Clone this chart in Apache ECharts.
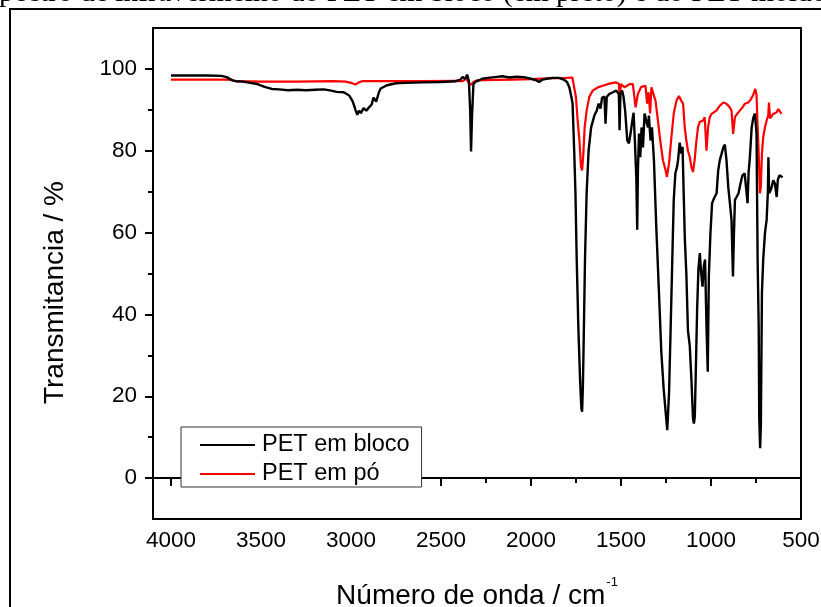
<!DOCTYPE html>
<html>
<head>
<meta charset="utf-8">
<script src="https://cdn.jsdelivr.net/npm/echarts@6/dist/echarts.min.js"></script>
<style>html,body{margin:0;padding:0;background:#fff;}#c{width:821px;height:607px;}</style>
</head>
<body>
<div id="c"></div>
<script>
// ---- data ----
const seriesNames = ['PET em bloco', 'PET em pó'];
const blocoWn = [4000,3900,3800,3720,3690,3660,3640,3600,3560,3520,3480,3440,3400,3350,3300,3250,3200,3150,3110,3080,3040,3010,2990,2975,2965,2955,2945,2930,2915,2900,2885,2875,2860,2850,2845,2835,2800,2750,2700,2600,2500,2420,2395,2380,2365,2355,2345,2338,2333,2328,2320,2310,2290,2270,2240,2200,2160,2120,2080,2040,2000,1970,1955,1935,1915,1880,1845,1815,1800,1787,1775,1769,1760,1753,1746,1737,1727,1720,1716,1712,1709,1700,1691,1680,1666,1648,1635,1624,1614,1605,1592,1586,1579,1564,1545,1527,1512,1508,1503,1494,1486,1477,1465,1456,1447,1437,1430,1423,1415,1410,1406,1400,1393,1386,1378,1369,1360,1350,1345,1336,1328,1317,1304,1289,1276,1263,1252,1243,1233,1224,1215,1207,1198,1189,1183,1174,1165,1158,1152,1145,1137,1128,1118,1109,1100,1095,1090,1085,1077,1070,1062,1055,1047,1040,1033,1025,1018,1012,1003,994,983,969,960,951,941,932,923,914,904,895,886,878,873,867,858,847,836,825,813,806,797,791,784,774,765,756,747,741,735,732,727,723,717,710,700,691,684,681,677,668,663,654,645,635,629,620,611,602];
const blocoT = [98.4,98.4,98.4,98.3,98.0,97.2,97.0,96.9,96.6,96.3,95.6,95.1,95.0,94.8,94.9,94.8,94.9,95.0,94.7,94.4,94.3,93.5,92.0,90.0,88.8,89.8,89.2,90.4,89.8,90.6,91.3,93.0,92.0,92.2,94.3,95.2,96.0,96.5,96.6,96.7,96.8,97.0,97.3,98.0,97.6,98.6,97.0,90.0,79.8,88.0,96.2,96.8,97.2,97.6,97.8,98.0,98.2,97.9,98.1,98.0,97.6,97.2,96.8,97.4,97.6,97.8,97.8,97.3,96.8,95.5,93.0,91.5,80.0,69.6,53.4,37.0,23.5,17.0,16.2,22.0,29.0,53.4,69.6,80.0,85.7,88.6,89.8,91.5,90.3,93.0,93.2,86.6,93.2,93.9,94.3,94.7,93.9,85.0,93.9,94.7,93.2,89.8,82.5,81.8,84.2,87.4,89.3,82.5,73.5,60.7,75.2,84.2,78.4,85.7,80.8,89.1,87.4,85.7,88.6,82.5,85.7,77.7,61.4,45.3,30.8,21.8,16.2,11.7,21.0,37.0,53.4,68.0,74.5,76.0,77.7,82.0,79.3,81.0,70.0,58.0,50.0,36.0,32.3,24.3,14.6,13.3,15.0,25.0,41.3,51.0,55.0,50.2,46.8,51.7,53.4,37.0,26.0,49.3,60.0,67.2,68.4,69.6,75.2,77.7,79.3,80.8,81.5,77.7,71.1,67.2,63.1,49.3,59.0,68.0,68.7,69.6,72.0,74.0,74.5,74.8,67.2,74.8,78.4,85.7,88.1,89.1,84.2,53.4,37.0,14.6,7.3,12.9,45.3,53.4,60.0,63.1,70.0,78.4,69.6,70.4,71.1,72.8,72.0,68.7,72.8,74.0,73.7,73.5];
const poWn = [4000,3900,3800,3700,3660,3640,3500,3300,3100,3030,3000,2975,2960,2940,2800,2600,2420,2380,2360,2345,2334,2320,2300,2200,2100,2000,1900,1800,1770,1759,1750,1741,1731,1722,1716,1709,1702,1691,1676,1657,1629,1601,1564,1527,1512,1507,1500,1480,1453,1434,1419,1406,1388,1364,1355,1347,1338,1331,1320,1308,1295,1282,1267,1252,1245,1233,1220,1207,1192,1178,1165,1155,1146,1137,1128,1118,1109,1100,1091,1081,1072,1063,1053,1044,1035,1025,1016,1007,997,988,970,951,932,914,895,886,877,867,855,840,825,812,793,780,765,754,747,741,735,728,723,717,710,700,691,682,678,672,663,654,645,635,626,617,608];
const poT = [97.4,97.4,97.4,97.4,97.3,97.0,96.9,96.9,97.0,96.9,96.6,96.2,96.6,97.0,97.0,97.0,97.1,97.0,97.6,96.6,96.1,96.8,97.2,97.3,97.4,97.5,97.7,97.8,97.9,97.5,93.0,87.4,82.5,76.0,75.2,79.3,85.7,89.8,93.2,94.7,95.5,95.9,96.4,96.7,96.4,93.4,96.3,95.5,96.3,96.3,90.6,93.9,95.6,95.9,91.5,94.3,89.1,95.5,95.1,92.2,87.4,82.5,77.7,75.2,73.6,76.9,83.3,89.1,92.2,93.4,92.2,91.5,85.8,82.5,80.0,78.5,76.0,74.8,77.7,82.5,85.8,87.0,86.6,87.4,88.2,80.0,85.8,88.2,89.0,89.4,89.8,91.0,91.8,91.5,90.6,89.8,84.1,88.2,89.0,89.8,90.6,91.5,91.8,92.5,93.7,95.1,93.7,85.8,79.3,69.6,71.2,79.3,83.3,85.8,87.4,88.6,91.8,87.9,88.2,89.0,89.0,89.4,90.2,89.8,89.0];
const xMajorTicks = [500,1000,1500,2000,2500,3000,3500,4000];
const xMinorTicks = [750,1250,1750,2250,2750,3250,3750];
const yMajorTicks = [0,20,40,60,80,100];
const yMinorTicks = [10,30,50,70,90];
const captionText = 'pectro de infravermelho do PET em bloco (em preto) e do PET moído';

// ---- chart ----
const sans = '"Liberation Sans", Arial, sans-serif';
const pair = (xs, ys) => xs.map((x, i) => [x, ys[i]]);
const plain = v => String(v);
const chart = echarts.init(document.getElementById('c'), null, {renderer: 'canvas'});
const common = {min: 500, max: 4100, inverse: true, type: 'value'};
const commonY = {min: -10, max: 110, type: 'value'};
chart.setOption({
  animation: false,
  backgroundColor: '#fff',
  grid: {left: 153, right: 20, top: 28, bottom: 88, show: true, borderColor: '#000', borderWidth: 2, backgroundColor: 'transparent', containLabel: false, outerBoundsMode: 'none'},
  graphic: [
    {type: 'rect', shape: {x: 10, y: 9, width: 900, height: 700}, style: {fill: 'none', stroke: '#000', lineWidth: 2}, z: -1, silent: true},
    {type: 'text', x: -1, y: -7, style: {text: captionText, font: '29.5px "Liberation Serif", "Times New Roman", serif', fill: '#000', verticalAlign: 'middle', align: 'left'}, silent: true}
  ],
  legend: {
    orient: 'vertical', left: 181, top: 427,
    padding: [6, 12, 1, 19], itemGap: 5, itemWidth: 55, itemHeight: 2, icon: 'rect',
    borderColor: '#333', borderWidth: 1, backgroundColor: '#fff',
    textStyle: {fontFamily: sans, fontSize: 23.5, color: '#000', padding: [0, 0, 0, 2]},
    data: seriesNames
  },
  xAxis: [
    Object.assign({}, common, {
      position: 'bottom',
      name: '{a|Número de onda / cm}{s|-1}', nameLocation: 'middle', nameGap: 57,
      nameTextStyle: {rich: {a: {fontFamily: sans, fontSize: 28, lineHeight: 40, color: '#000'}, s: {fontFamily: sans, fontSize: 13, lineHeight: 13, color: '#000', verticalAlign: 'top', padding: [0, 0, 0, 1]}}},
      axisLine: {show: true, lineStyle: {color: '#000', width: 2}},
      axisTick: {show: true, inside: false, length: 8, lineStyle: {color: '#000', width: 2}, customValues: xMajorTicks},
      axisLabel: {show: true, margin: 10, fontFamily: sans, fontSize: 22.5, color: '#000', customValues: xMajorTicks, formatter: plain},
      splitLine: {show: false}
    }),
    Object.assign({}, common, {
      position: 'bottom', gridIndex: 0,
      axisLine: {show: false},
      axisTick: {show: true, inside: false, length: 5, lineStyle: {color: '#000', width: 2}, customValues: xMinorTicks},
      axisLabel: {show: false},
      splitLine: {show: false}
    })
  ],
  yAxis: [
    Object.assign({}, commonY, {
      position: 'left',
      name: 'Transmitancia / %', nameLocation: 'middle', nameGap: 84, nameRotate: 90,
      nameTextStyle: {fontFamily: sans, fontSize: 28, color: '#000', padding: [0, 38, 0, 0]},
      axisLine: {show: true, lineStyle: {color: '#000', width: 2}},
      axisTick: {show: true, inside: false, length: 8, lineStyle: {color: '#000', width: 2}, customValues: yMajorTicks},
      axisLabel: {show: true, margin: 16, fontFamily: sans, fontSize: 22.5, color: '#000', customValues: yMajorTicks, formatter: plain},
      splitLine: {show: false}
    }),
    Object.assign({}, commonY, {
      position: 'left', gridIndex: 0,
      axisLine: {show: false},
      axisTick: {show: true, inside: false, length: 5, lineStyle: {color: '#000', width: 2}, customValues: yMinorTicks},
      axisLabel: {show: false},
      splitLine: {show: false}
    })
  ],
  series: [
    {name: seriesNames[0], type: 'line', xAxisIndex: 0, yAxisIndex: 0, data: pair(blocoWn, blocoT), symbol: 'none', lineStyle: {color: '#000', width: 2.4}, itemStyle: {color: '#000'}, z: 3},
    {name: seriesNames[1], type: 'line', xAxisIndex: 0, yAxisIndex: 0, data: pair(poWn, poT), symbol: 'none', lineStyle: {color: '#ff0000', width: 2.2}, itemStyle: {color: '#ff0000'}, z: 2}
  ]
});
</script>
</body>
</html>
